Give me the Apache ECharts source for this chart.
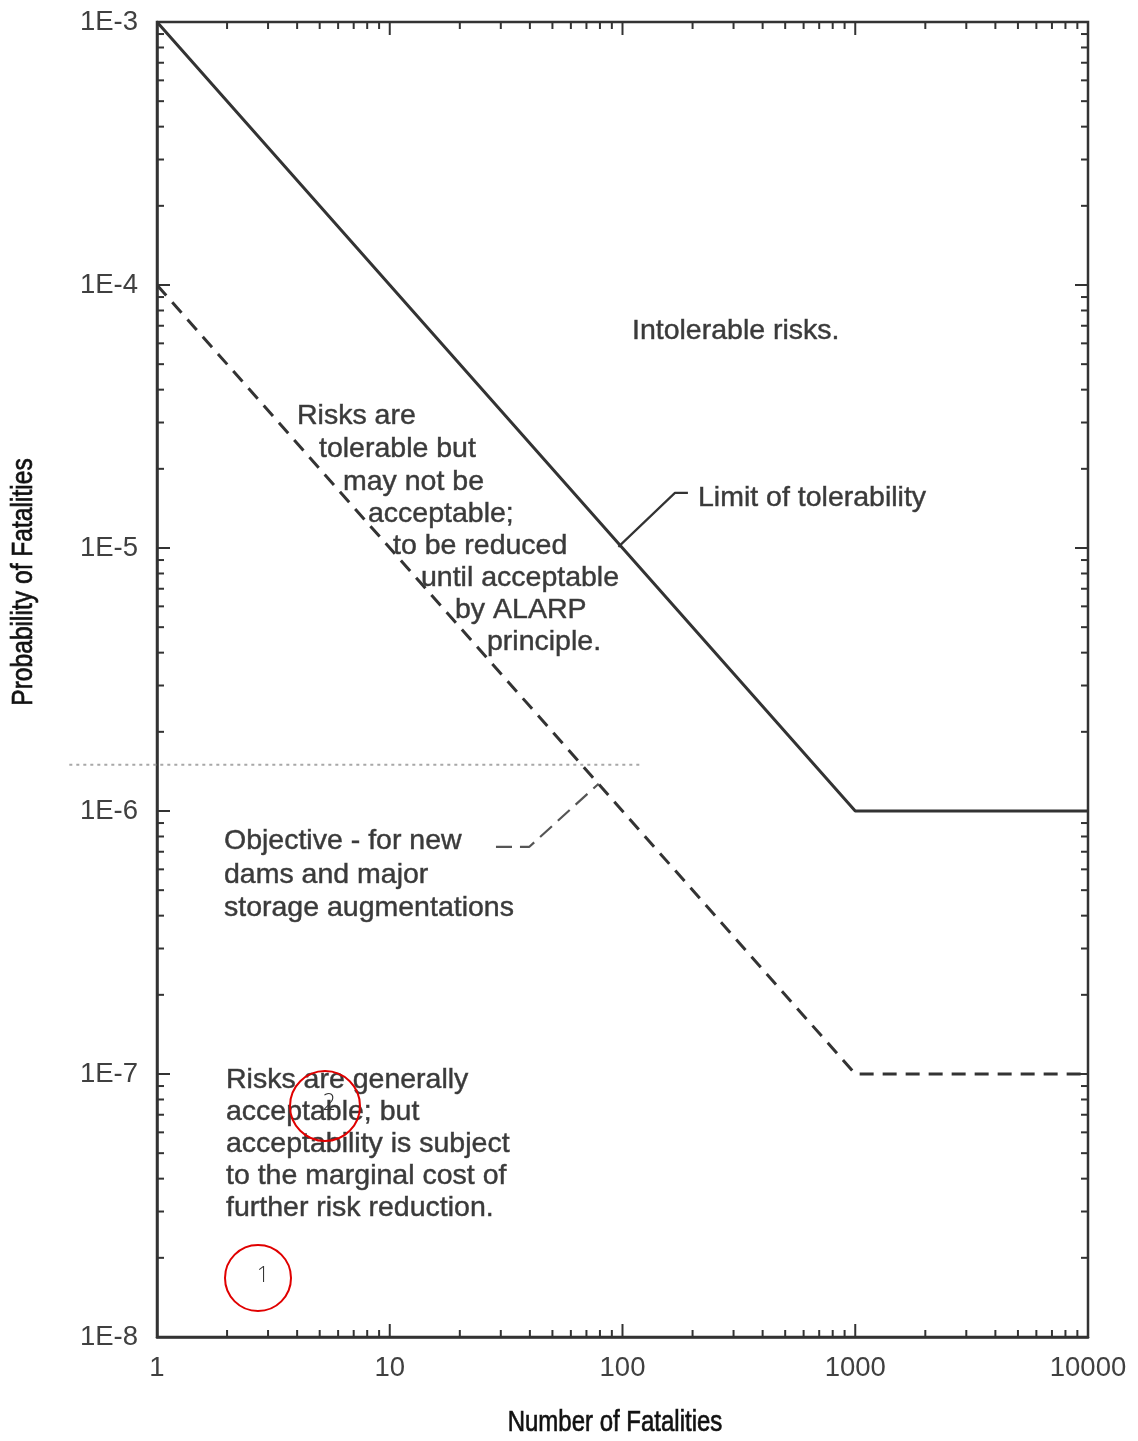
<!DOCTYPE html>
<html><head><meta charset="utf-8">
<script src="https://cdn.jsdelivr.net/npm/echarts@6/dist/echarts.min.js"></script>
<style>html,body{margin:0;padding:0;background:#fff}#chart{width:1138px;height:1441px}</style>
</head><body><div id="chart"></div>
<script>
// ---- data ----
const limitOfTolerability = [[1, 1e-3], [1000, 1e-6], [10000, 1e-6]];
const objectiveLine = [[1, 1e-4], [1000, 1e-7], [10000, 1e-7]];
const dottedLevel = [[0.42, 1.5e-6], [120, 1.5e-6]];
const limitLeader = [[191, 1.62e-5], [168, 1.62e-5], [96, 1.01e-5]];
const objectiveLeader = [[28.6, 7.3e-7], [39.7, 7.3e-7], [79, 1.27e-6]];
const xTickLabels = ['1', '10', '100', '1000', '10000'];
const yTickLabels = {'-8': '1E-8', '-7': '1E-7', '-6': '1E-6', '-5': '1E-5', '-4': '1E-4', '-3': '1E-3'};
const xName = 'Number of Fatalities';
const yName = 'Probability of Fatalities';

// tick positions (log minor ticks)
const xTicks = [];
for (let d = 1; d < 10000; d *= 10) for (let k = 1; k <= 9; k++) { if (d === 1 && k === 1) continue; xTicks.push([k * d, k === 1 ? 1 : 0]); }
const yTicks = [];
for (let e = -8; e < -3; e++) for (let k = 1; k <= 9; k++) { if (e === -8 && k === 1) continue; yTicks.push([k * Math.pow(10, e), k === 1 ? 1 : 0]); }

const X_MIN = 1, X_MAX = 10000, Y_MIN = 1e-8, Y_MAX = 1e-3;
const INK = '#333';
const TXT = '#3a3a3a';
const annFont = '28.5px "Liberation Sans", Arial, sans-serif';
const nameFont = '30px "Liberation Sans", Arial, sans-serif';

const chart = echarts.init(document.getElementById('chart'), null, {renderer: 'canvas'});

function txt(x, y, s) {
  return {type: 'text', x: x, y: y, silent: true, z: 10,
    style: {text: s, font: annFont, fill: TXT, stroke: '#555', lineWidth: 0.5, verticalAlign: 'middle', align: 'left'}};
}

const option = {
  backgroundColor: '#fff',
  animation: false,
  grid: {left: 157, right: 50, top: 22, bottom: 104, show: true, borderColor: INK, borderWidth: 2.5, outerBoundsMode: 'none'},
  xAxis: {
    type: 'log', logBase: 10, min: X_MIN, max: X_MAX,
    axisLine: {show: true, lineStyle: {color: INK, width: 2.5}},
    axisTick: {show: false}, splitLine: {show: false}, minorTick: {show: false},
    axisLabel: {formatter: v => xTickLabels[Math.round(Math.log10(v))], fontSize: 27.5, color: '#404040', margin: 17,
      fontFamily: '"Liberation Sans", Arial, sans-serif'},
    name: ''
  },
  yAxis: {
    type: 'log', logBase: 10, min: Y_MIN, max: Y_MAX,
    axisLine: {show: true, lineStyle: {color: INK, width: 2.5}},
    axisTick: {show: false}, splitLine: {show: false}, minorTick: {show: false},
    axisLabel: {formatter: v => yTickLabels[String(Math.round(Math.log10(v)))], fontSize: 27.5, color: '#404040', margin: 19,
      fontFamily: '"Liberation Sans", Arial, sans-serif'},
    name: ''
  },
  series: [
    {type: 'line', data: limitOfTolerability, symbol: 'none', lineStyle: {color: INK, width: 3}, z: 5, silent: true},
    {type: 'line', data: objectiveLine, symbol: 'none', lineStyle: {color: INK, width: 3, type: [14, 9]}, z: 5, silent: true},
    {type: 'line', data: limitLeader, symbol: 'none', lineStyle: {color: INK, width: 2.2}, z: 5, silent: true},
    {type: 'line', data: objectiveLeader, symbol: 'none', lineStyle: {color: '#555', width: 2.2, type: [16, 8]}, z: 5, silent: true},
    {
      // dotted reference level; extends beyond the left axis as in the scan
      type: 'custom', silent: true, z: 4, clip: false,
      data: [[dottedLevel[0][0], dottedLevel[1][0], dottedLevel[0][1]]],
      renderItem: function (params, api) {
        const x1 = api.value(0), x2 = api.value(1), y = api.value(2);
        const a = api.coord([1, y]), b = api.coord([10, y]);
        const dec = b[0] - a[0];
        const px1 = a[0] + dec * Math.log10(x1), px2 = a[0] + dec * Math.log10(x2);
        return {type: 'line', shape: {x1: px1, y1: a[1], x2: px2, y2: a[1]},
          style: {stroke: '#a8a8a8', lineWidth: 2, lineDash: [3, 4]}};
      }
    },
    {
      type: 'custom', silent: true, z: 6, data: xTicks,
      renderItem: function (params, api) {
        const v = api.value(0), maj = api.value(1);
        const b = api.coord([v, Y_MIN]), t = api.coord([v, Y_MAX]);
        const len = maj ? 13 : 7;
        const st = {stroke: INK, lineWidth: 2};
        return {type: 'group', children: [
          {type: 'line', shape: {x1: b[0], y1: b[1], x2: b[0], y2: b[1] - len}, style: st},
          {type: 'line', shape: {x1: t[0], y1: t[1], x2: t[0], y2: t[1] + len}, style: st}
        ]};
      }
    },
    {
      type: 'custom', silent: true, z: 6, data: yTicks.map(d => [X_MIN, d[0], d[1]]),
      encode: {x: 0, y: 1},
      renderItem: function (params, api) {
        const v = api.value(1), maj = api.value(2);
        const l = api.coord([X_MIN, v]), r = api.coord([X_MAX, v]);
        const len = maj ? 13 : 7;
        const st = {stroke: INK, lineWidth: 2};
        return {type: 'group', children: [
          {type: 'line', shape: {x1: l[0], y1: l[1], x2: l[0] + len, y2: l[1]}, style: st},
          {type: 'line', shape: {x1: r[0], y1: r[1], x2: r[0] - len, y2: r[1]}, style: st}
        ]};
      }
    }
  ],
  graphic: [
    // axis names (condensed look of the original)
    {type: 'text', x: 615, y: 1423, scaleX: 0.8, silent: true,
      style: {text: xName, font: nameFont, fill: '#111', stroke: '#222', lineWidth: 0.7, align: 'center', verticalAlign: 'middle'}},
    {type: 'text', x: 24, y: 582, rotation: Math.PI / 2, scaleX: 0.82, silent: true,
      style: {text: yName, font: nameFont, fill: '#111', stroke: '#222', lineWidth: 0.7, align: 'center', verticalAlign: 'middle'}},
    txt(632, 331, 'Intolerable risks.'),
    txt(698, 498, 'Limit of tolerability'),
    txt(297, 416, 'Risks are'),
    txt(319, 449, 'tolerable but'),
    txt(343, 482, 'may not be'),
    txt(368, 514, 'acceptable;'),
    txt(393, 546, 'to be reduced'),
    txt(421, 578, 'until acceptable'),
    txt(455, 610, 'by ALARP'),
    txt(487, 642, 'principle.'),
    txt(224, 841, 'Objective - for new'),
    txt(224, 875, 'dams and major'),
    txt(224, 908, 'storage augmentations'),
    txt(226, 1080, 'Risks are generally'),
    txt(226, 1112, 'acceptable; but'),
    txt(226, 1144, 'acceptability is subject'),
    txt(226, 1176, 'to the marginal cost of'),
    txt(226, 1208, 'further risk reduction.'),
    {type: 'circle', shape: {cx: 258, cy: 1278, r: 33}, style: {fill: 'none', stroke: '#e00000', lineWidth: 2}, z: 20, silent: true},
    {type: 'text', x: 263, y: 1276, z: 21, silent: true, style: {text: '1', font: '300 22px "Open Sans", sans-serif', fill: '#333', align: 'center', verticalAlign: 'middle'}},
    {type: 'circle', shape: {cx: 325, cy: 1106, r: 35}, style: {fill: 'none', stroke: '#e00000', lineWidth: 2}, z: 20, silent: true},
    {type: 'text', x: 329, y: 1103, z: 21, silent: true, style: {text: '2', font: '300 23px "Open Sans", sans-serif', fill: '#333', align: 'center', verticalAlign: 'middle'}}
  ]
};
chart.setOption(option);
</script>
</body></html>
